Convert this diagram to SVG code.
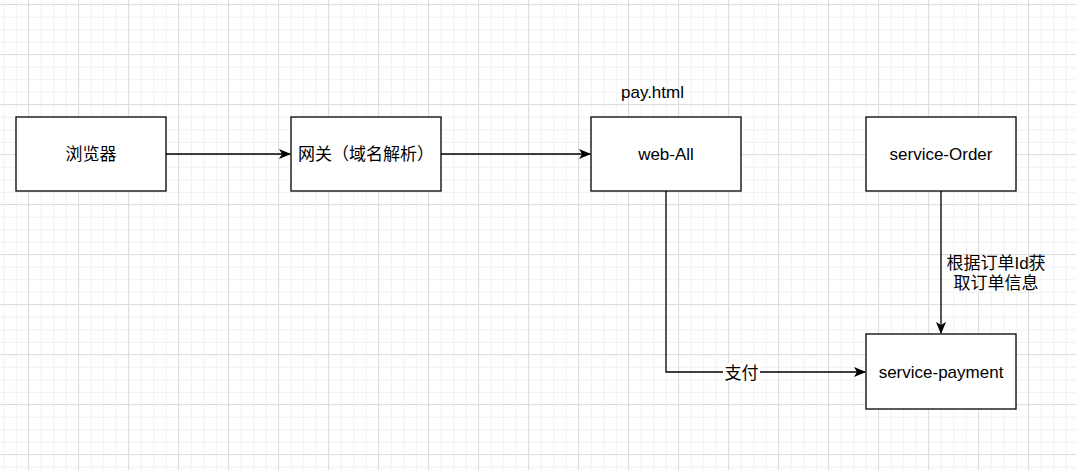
<svg xmlns="http://www.w3.org/2000/svg" width="1076" height="470" viewBox="0 0 1076 470">
  <defs>
    <pattern id="minor" patternUnits="userSpaceOnUse" x="3.3" y="4.3" width="12.5" height="12.5">
      <path d="M0.5 0 V12.5 M0 0.5 H12.5" stroke="#f0f0f0" stroke-width="1" fill="none"/>
    </pattern>
    <pattern id="major" patternUnits="userSpaceOnUse" x="28" y="4" width="50" height="50">
      <path d="M0.5 0 V50 M0 0.5 H50" stroke="#dedede" stroke-width="1" fill="none"/>
    </pattern>
    <marker id="arrow" viewBox="0 0 12 10" refX="11" refY="5" markerWidth="12" markerHeight="10" markerUnits="userSpaceOnUse" orient="auto">
      <path d="M0 0 L12 5 L0 10 L3 5 Z" fill="#000"/>
    </marker>
    <style>
      .box { fill: #fff; stroke: #000; stroke-width: 1.3; }
      .lbl { font-family: "Liberation Sans", "Noto Sans CJK SC", sans-serif; font-size: 17px; fill: #000; text-anchor: middle; }
      .edge { fill: none; stroke: #000; stroke-width: 1.3; }
    </style>
  </defs>
  <rect width="1076" height="470" fill="#fff"/>
  <rect width="1076" height="470" fill="url(#minor)"/>
  <rect width="1076" height="470" fill="url(#major)"/>

  <g id="connectors">
    <path class="edge" d="M166 154 H290" marker-end="url(#arrow)"/>
    <path class="edge" d="M441 154 H590" marker-end="url(#arrow)"/>
    <path class="edge" d="M666 191 V372 H865" marker-end="url(#arrow)"/>
    <path class="edge" d="M941 191 V333" marker-end="url(#arrow)"/>
    <rect x="723" y="363" width="37" height="19" fill="#fff"/>
    <text class="lbl" x="741.5" y="379">支付</text>
    <text class="lbl" x="996" y="269">根据订单Id获</text>
    <text class="lbl" x="996" y="289">取订单信息</text>
  </g>

  <g id="browser">
    <rect class="box" x="16" y="117" width="150" height="74"/>
    <text class="lbl" x="91" y="160">浏览器</text>
  </g>
  <g id="gateway">
    <rect class="box" x="291" y="117" width="150" height="74"/>
    <text class="lbl" x="366" y="160">网关（域名解析）</text>
  </g>
  <g id="web-all">
    <rect class="box" x="591" y="117" width="150" height="74"/>
    <text class="lbl" x="666" y="160">web-All</text>
  </g>
  <g id="pay-html">
    <text class="lbl" x="652.5" y="98">pay.html</text>
  </g>
  <g id="service-order">
    <rect class="box" x="866" y="117" width="150" height="74"/>
    <text class="lbl" x="941" y="160">service-Order</text>
  </g>
  <g id="service-payment">
    <rect class="box" x="866" y="334" width="150" height="75"/>
    <text class="lbl" x="941" y="378">service-payment</text>
  </g>
</svg>
